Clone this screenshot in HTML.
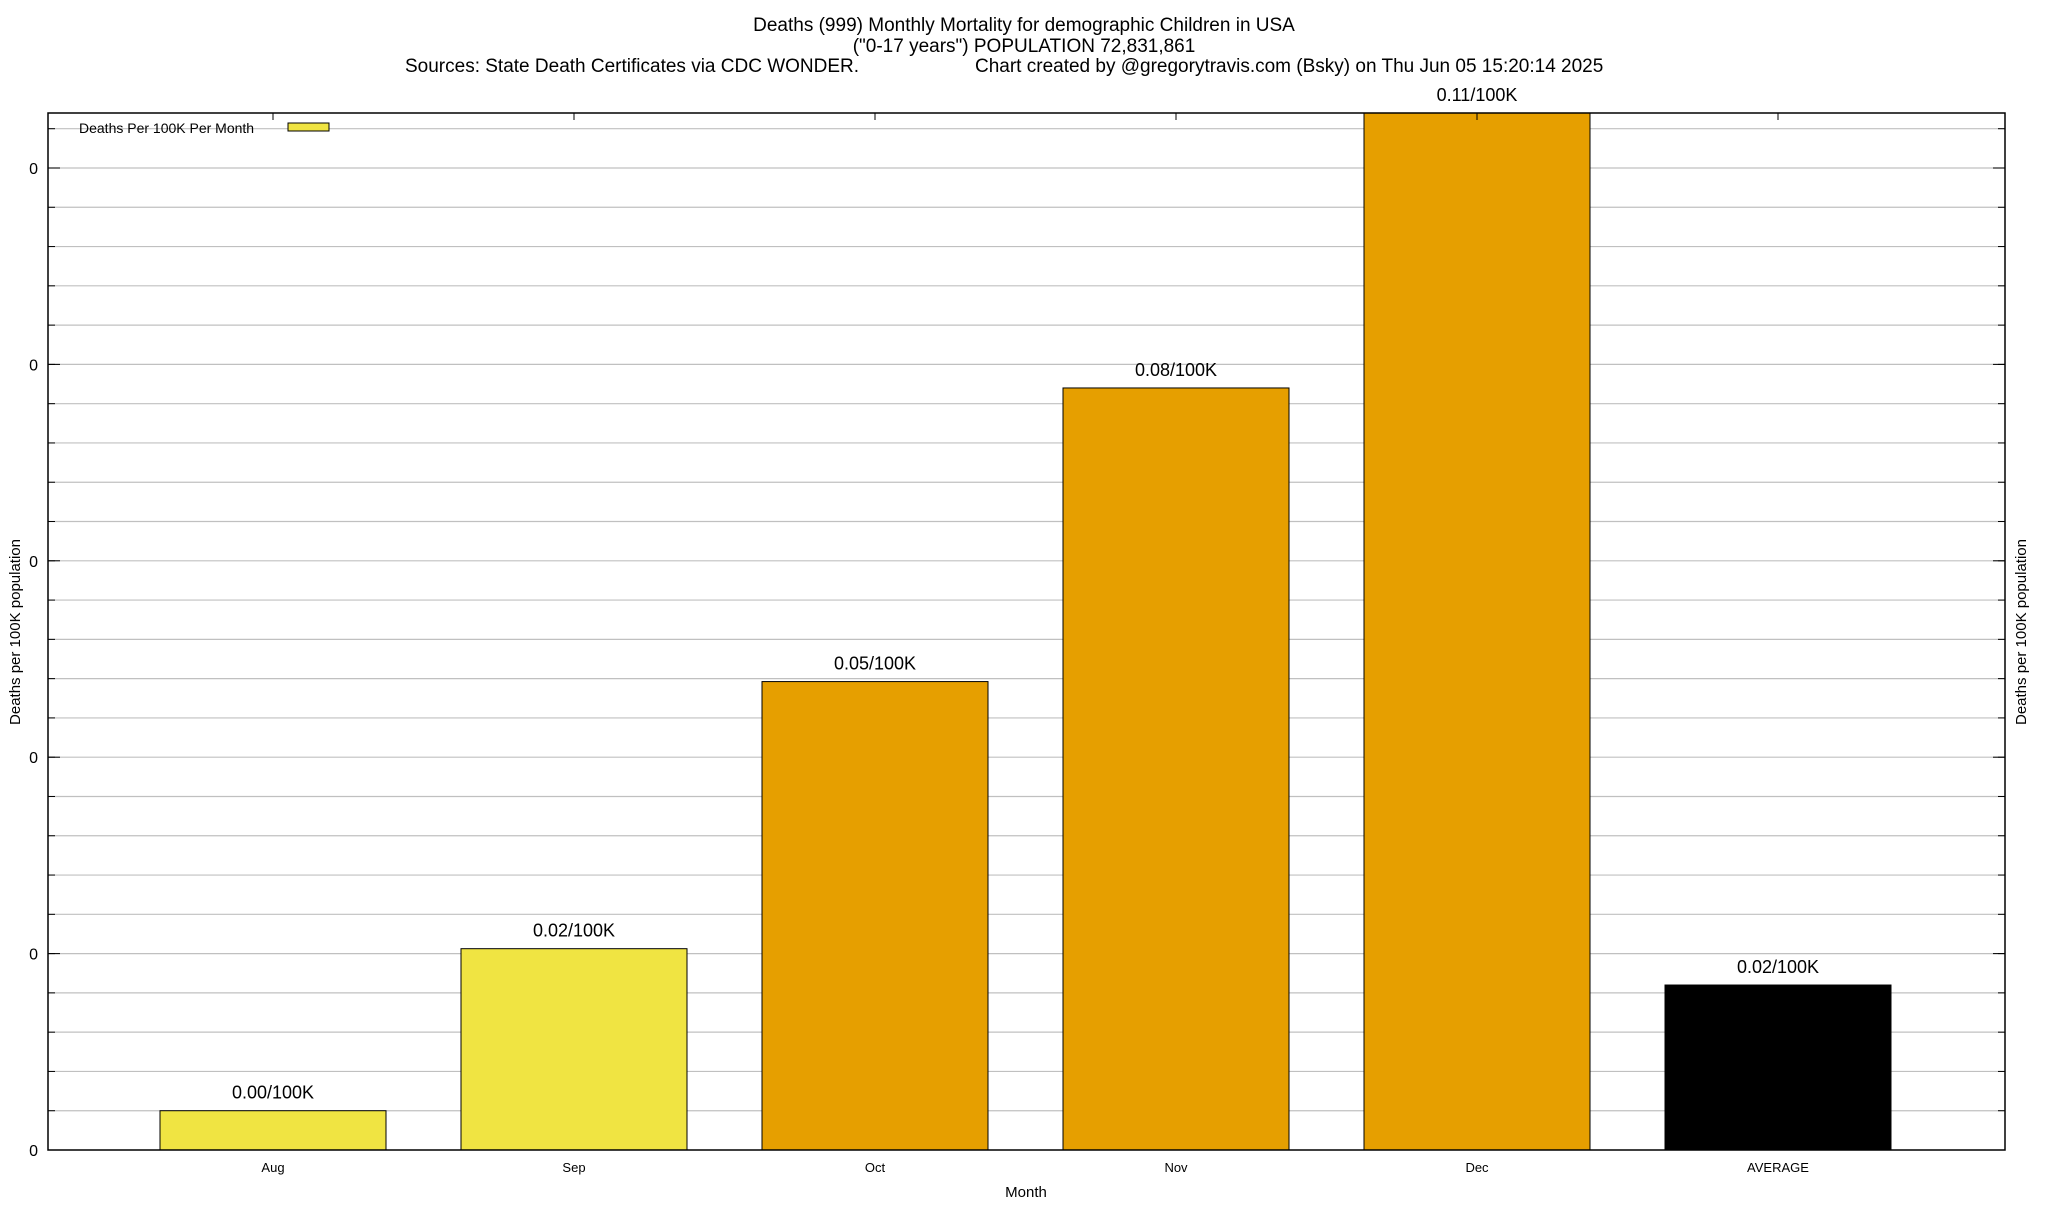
<!DOCTYPE html>
<html><head><meta charset="utf-8"><style>
html,body{margin:0;padding:0;background:#fff;}
svg text{font-family:"Liberation Sans",Arial,sans-serif;fill:#000;}
</style></head><body>
<svg id="chart" width="2048" height="1200" viewBox="0 0 2048 1200" xmlns="http://www.w3.org/2000/svg">
<text x="1024" y="31" font-size="19" text-anchor="middle">Deaths (999) Monthly Mortality for demographic Children in USA</text>
<text x="1024" y="52" font-size="19" text-anchor="middle">("0-17 years") POPULATION 72,831,861</text>
<text x="405" y="72" font-size="19">Sources: State Death Certificates via CDC WONDER.</text>
<text x="975" y="72" font-size="19">Chart created by @gregorytravis.com (Bsky) on Thu Jun 05 15:20:14 2025</text>
<g id="grid"></g>
<g id="bars"></g>
<rect x="48" y="113" width="1957" height="1037" fill="none" stroke="#000" stroke-width="1.5"/>
<g id="ticks"></g>
<text x="20" y="632" font-size="15" text-anchor="middle" transform="rotate(-90 20 632)">Deaths per 100K population</text>
<text x="2026" y="632" font-size="15" text-anchor="middle" transform="rotate(-90 2026 632)">Deaths per 100K population</text>
<text x="1026" y="1197" font-size="15" text-anchor="middle">Month</text>
<g>
<text x="79" y="133" font-size="14">Deaths Per 100K Per Month</text>
<rect x="288" y="123" width="41" height="8" fill="#f0e442" stroke="#000"/>
</g>
</svg>
<script>
const categories = ["Aug","Sep","Oct","Nov","Dec","AVERAGE"];
const values = [0.0040,0.0205,0.0477,0.0776,0.1056,0.0168];
const valueLabels = ["0.00/100K","0.02/100K","0.05/100K","0.08/100K","0.11/100K","0.02/100K"];
const barColors = ["#f0e442","#f0e442","#e69f00","#e69f00","#e69f00","#000000"];
const yTickValues = [0,0.02,0.04,0.06,0.08,0.10];
const yTickLabels = ["0","0","0","0","0","0"];
const yMinorStep = 0.004;
const yMax = 0.1056;

const NS="http://www.w3.org/2000/svg";
const L=48,R=2005,T=113,B=1150;
const y=v=>B-(v/yMax)*(B-T);
const x=i=>273+i*301;
const bw=226;
function mk(tag,attrs,parent){const e=document.createElementNS(NS,tag);for(const k in attrs)e.setAttribute(k,attrs[k]);parent.appendChild(e);return e;}
const grid=document.getElementById('grid'),bars=document.getElementById('bars'),ticks=document.getElementById('ticks');
for(let v=yMinorStep;v<yMax;v+=yMinorStep){
  const g=mk('line',{x1:L,x2:R,y1:y(v),y2:y(v),stroke:'#c0c0c0','stroke-width':1.2},grid);
  
  
  const t1=mk('line',{x1:L,x2:L+7,y1:y(v),y2:y(v),stroke:'#000'},ticks);
  
  
  const t2=mk('line',{x1:R-7,x2:R,y1:y(v),y2:y(v),stroke:'#000'},ticks);
  
  
}
yTickValues.forEach((v,i)=>{
  const t=mk('line',{x1:L,x2:L+12,y1:y(v),y2:y(v),stroke:'#000'},ticks);
  
  
  const tr=mk('line',{x1:R-12,x2:R,y1:y(v),y2:y(v),stroke:'#000'},ticks);
  
  
  const lb=mk('text',{x:38,y:y(v)+6,'font-size':16,'text-anchor':'end'},ticks);
  lb.textContent=yTickLabels[i];
  
  
});
categories.forEach((c,i)=>{
  const cx=x(i);
  const r=mk('rect',{x:cx-bw/2,y:y(values[i]),width:bw,height:B-y(values[i]),fill:barColors[i],stroke:'#000','stroke-width':1},bars);
  
  
  const vl=mk('text',{x:cx,y:y(values[i])-12,'font-size':18,'text-anchor':'middle'},bars);
  vl.textContent=valueLabels[i];
  
  
  const xt=mk('line',{x1:cx,x2:cx,y1:T,y2:T+7,stroke:'#000'},ticks);
  
  
  const xl=mk('text',{x:cx,y:1172,'font-size':13,'text-anchor':'middle'},ticks);
  xl.textContent=c;
  
  
});
</script>
</body></html>
